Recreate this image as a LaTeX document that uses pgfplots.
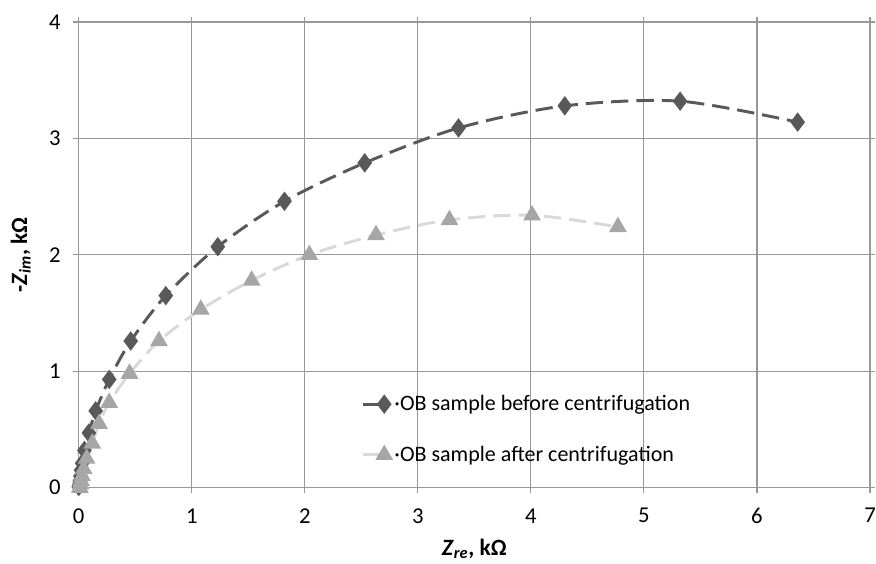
\documentclass[border=0pt]{standalone}
\usepackage{pgfplots}
\pgfplotsset{compat=1.18}
\usepackage{fontspec}
\setmainfont{Carlito}
\definecolor{darkser}{HTML}{595959}
\definecolor{lightmark}{HTML}{A6A6A6}
\definecolor{lightline}{HTML}{D9D9D9}
\definecolor{gridc}{HTML}{989898}
\begin{document}
\begin{tikzpicture}
\begin{axis}[
  scale only axis,
  width=593pt, height=349pt,
  xmin=0, xmax=7, ymin=0, ymax=4,
  xtick={0,1,...,7}, ytick={0,1,2,3,4},
  grid=major,
  grid style={gridc, line width=0.8pt},
  axis line style={gridc, line width=0.8pt},
  tick style={gridc, line width=0.8pt},
  tick align=outside,
  major tick length=4pt,
  /pgf/number format/assume math mode=true,
  xticklabel style={font=\fontsize{17pt}{19pt}\selectfont, text=black, yshift=-8pt},
  yticklabel style={font=\fontsize{17pt}{19pt}\selectfont, text=black, xshift=-6pt},
  xlabel={\textbf{\textit{Z}\textsubscript{\textit{re}}, kΩ}},
  ylabel={\textbf{-\textit{Z}\textsubscript{\textit{im}}, kΩ}},
  label style={font=\fontsize{17.5pt}{20pt}\selectfont},
  xlabel style={yshift=-4.5pt},
  ylabel style={yshift=7pt},
  legend style={at={(0.352,0.21)}, anchor=north west, draw=none, fill=none,
    font=\fontsize{16.5pt}{19pt}\selectfont, row sep=21pt, cells={anchor=west}},
  legend cell align=left,
  legend image code/.code={
    \draw[#1, solid, mark repeat=2, mark phase=2] plot coordinates {(0cm,0cm) (0.56cm,0cm)};
    \path (0.72cm,0cm);
  },
]
\addplot[darkser, line width=2.2pt, dash pattern=on 13pt off 6pt, smooth, tension=0.5,
  mark=diamond*, mark size=5.5pt, mark options={solid, fill=darkser, draw=darkser}]
  coordinates {
  (0.000,0.01) (0.005,0.03) (0.010,0.06) (0.015,0.10) (0.020,0.15) (0.030,0.21)
  (0.05,0.32) (0.09,0.47) (0.15,0.66) (0.27,0.93) (0.46,1.26) (0.77,1.65)
  (1.23,2.07) (1.82,2.46) (2.53,2.79) (3.36,3.09) (4.30,3.28) (5.32,3.32) (6.36,3.14)
  };
\addlegendentry{·OB sample before centrifugation}
\addplot[lightline, line width=2.2pt, dash pattern=on 13pt off 6pt, smooth, tension=0.5,
  mark=triangle*, mark size=5.5pt, mark options={solid, fill=lightmark, draw=lightmark}]
  coordinates {
  (0.010,0.00) (0.015,0.03) (0.020,0.06) (0.030,0.10) (0.045,0.16) (0.07,0.25)
  (0.12,0.38) (0.18,0.55) (0.27,0.73) (0.45,0.98) (0.71,1.26) (1.08,1.53)
  (1.53,1.78) (2.04,2.00) (2.63,2.17) (3.28,2.30) (4.01,2.34) (4.77,2.24)
  };
\addlegendentry{·OB sample after centrifugation}
\end{axis}
\pgfresetboundingbox
\path[use as bounding box] ([shift={(-59pt,-57pt)}]current axis.south west) rectangle ([shift={(4.5pt,16.5pt)}]current axis.north east);
\end{tikzpicture}
\end{document}
